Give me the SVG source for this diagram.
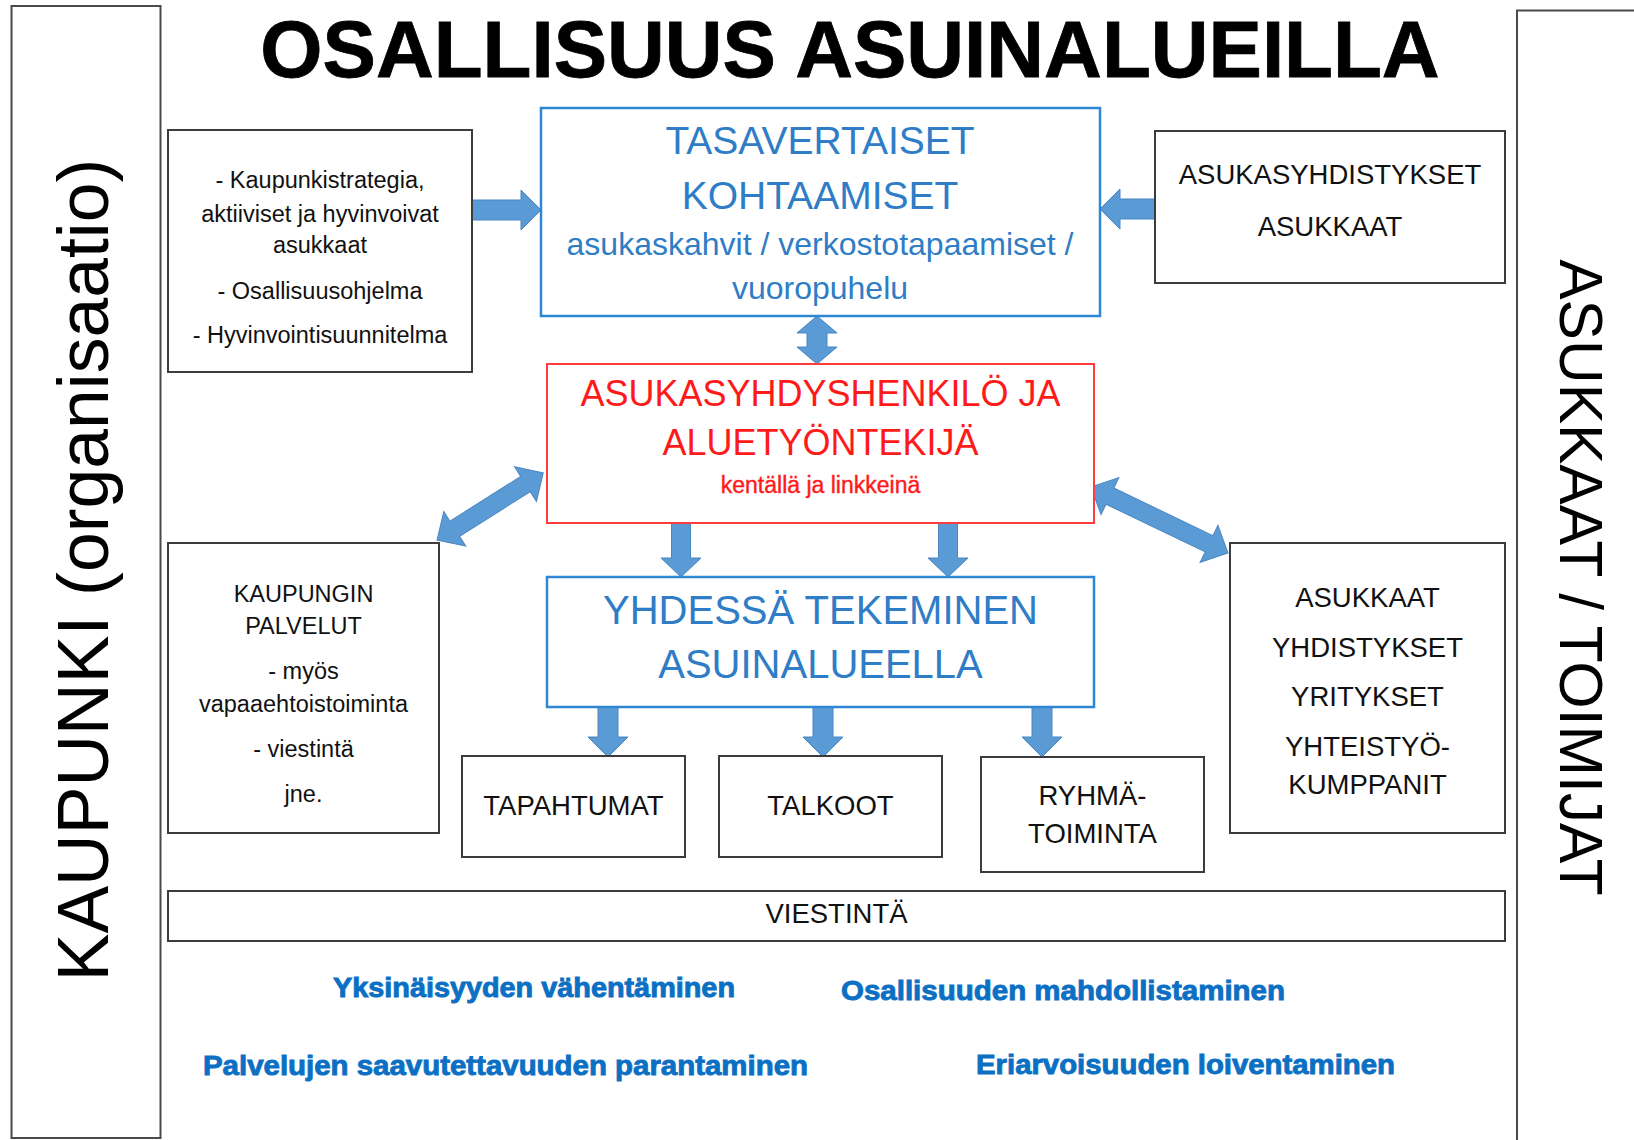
<svg xmlns="http://www.w3.org/2000/svg" width="1634" height="1140" viewBox="0 0 1634 1140">
<style>
  text { font-family: "Liberation Sans", Arial, sans-serif; }
  .box { fill: #ffffff; stroke: #3c3c3c; stroke-width: 2; }
  .bbox { fill: #ffffff; stroke: #2f86d2; stroke-width: 2.5; }
  .rbox { fill: #ffffff; stroke: #ff3c3c; stroke-width: 2; }
  .frame { fill: none; stroke: #4a4a4a; stroke-width: 2; }
  .arr { fill: #5b9bd5; stroke: #4a86c0; stroke-width: 1; stroke-linejoin: miter; }
  .t { fill: #111111; text-anchor: middle; }
  .s { font-size: 23.5px; }
  .m { font-size: 27.5px; }
  .blue { fill: #2e7dc6; text-anchor: middle; }
  .red { fill: #ff1a1a; text-anchor: middle; }
  .goal { fill: #0b70c4; font-weight: bold; font-size: 28px; stroke: #0b70c4; stroke-width: 0.9; }
</style>
<rect x="0" y="0" width="1634" height="1140" fill="#ffffff"/>

<g id="side-kaupunki">
  <rect class="frame" x="11.5" y="6" width="149" height="1132"/>
  <text transform="translate(108,570) rotate(-90)" font-size="71.5" text-anchor="middle" fill="#000">KAUPUNKI (organisaatio)</text>
</g>

<g id="side-asukkaat">
  <rect class="frame" x="1517" y="10.5" width="140" height="1140"/>
  <text transform="translate(1560,577.5) rotate(90)" font-size="60.5" text-anchor="middle" fill="#000">ASUKKAAT / TOIMIJAT</text>
</g>

<g id="title">
  <text x="850" y="77" font-size="80" font-weight="bold" text-anchor="middle" fill="#000" stroke="#000" stroke-width="0.8">OSALLISUUS ASUINALUEILLA</text>
</g>

<g id="connectors">
  <polygon class="arr" points="472,200 521,200 521,190 541,210 521,230 521,220 472,220"/>
  <polygon class="arr" points="1155,199 1120,199 1120,189 1100,209 1120,229 1120,219 1155,219"/>
  <polygon class="arr" points="817,316 837,333 827,333 827,347 837,347 817,364 797,347 807,347 807,333 797,333"/>
  <polygon class="arr" transform="translate(437,540) rotate(-32.3)" points="0,0 21,-20.5 21,-9 104.7,-9 104.7,-20.5 125.7,0 104.7,20.5 104.7,9 21,9 21,20.5"/>
  <polygon class="arr" transform="translate(1091,487) rotate(25.7)" points="0,0 21,-20.5 21,-9 131,-9 131,-20.5 152,0 131,20.5 131,9 21,9 21,20.5"/>
  <polygon class="arr" points="671.5,523 690.5,523 690.5,558 701,558 681,577 661,558 671.5,558"/>
  <polygon class="arr" points="938.5,523 957.5,523 957.5,558 968,558 948,577 928,558 938.5,558"/>
  <polygon class="arr" points="598,707 618,707 618,737 628,737 608,757 588,737 598,737"/>
  <polygon class="arr" points="813,707 833,707 833,737 843,737 823,757 803,737 813,737"/>
  <polygon class="arr" points="1032,707 1052,707 1052,737 1062,737 1042,757 1022,737 1032,737"/>
</g>

<g id="node-strategia">
  <rect class="box" x="168" y="130" width="304" height="242"/>
  <text class="t s" x="320" y="188">- Kaupunkistrategia,</text>
  <text class="t s" x="320" y="222">aktiiviset ja hyvinvoivat</text>
  <text class="t s" x="320" y="253">asukkaat</text>
  <text class="t s" x="320" y="299">- Osallisuusohjelma</text>
  <text class="t s" x="320" y="343">- Hyvinvointisuunnitelma</text>
</g>

<g id="node-tasavertaiset">
  <rect class="bbox" x="541" y="108" width="559" height="208"/>
  <text class="blue" x="820" y="154" font-size="39">TASAVERTAISET</text>
  <text class="blue" x="820" y="209" font-size="39">KOHTAAMISET</text>
  <text class="blue" x="820" y="255" font-size="32">asukaskahvit / verkostotapaamiset /</text>
  <text class="blue" x="820" y="299" font-size="32">vuoropuhelu</text>
</g>

<g id="node-asukasyhdistykset">
  <rect class="box" x="1155" y="131" width="350" height="152"/>
  <text class="t m" x="1330" y="184">ASUKASYHDISTYKSET</text>
  <text class="t m" x="1330" y="236">ASUKKAAT</text>
</g>

<g id="node-asukasyhdyshenkilo">
  <rect class="rbox" x="547" y="364" width="547" height="159"/>
  <text class="red" x="820.5" y="406" font-size="36">ASUKASYHDYSHENKILÖ JA</text>
  <text class="red" x="820.5" y="455" font-size="36">ALUETYÖNTEKIJÄ</text>
  <text class="red" x="820.5" y="493" font-size="23" stroke="#ff1a1a" stroke-width="0.4">kentällä ja linkkeinä</text>
</g>

<g id="node-yhdessa">
  <rect class="bbox" x="547" y="577" width="547" height="130"/>
  <text class="blue" x="820.5" y="624" font-size="40">YHDESSÄ TEKEMINEN</text>
  <text class="blue" x="820.5" y="678" font-size="40">ASUINALUEELLA</text>
</g>

<g id="node-kaupungin-palvelut">
  <rect class="box" x="168" y="543" width="271" height="290"/>
  <text class="t s" x="303.5" y="602">KAUPUNGIN</text>
  <text class="t s" x="303.5" y="634">PALVELUT</text>
  <text class="t s" x="303.5" y="679">- myös</text>
  <text class="t s" x="303.5" y="712">vapaaehtoistoiminta</text>
  <text class="t s" x="303.5" y="757">- viestintä</text>
  <text class="t s" x="303.5" y="802">jne.</text>
</g>

<g id="node-asukkaat-yhdistykset">
  <rect class="box" x="1230" y="543" width="275" height="290"/>
  <text class="t m" x="1367.5" y="607">ASUKKAAT</text>
  <text class="t m" x="1367.5" y="657">YHDISTYKSET</text>
  <text class="t m" x="1367.5" y="706">YRITYKSET</text>
  <text class="t m" x="1367.5" y="756">YHTEISTYÖ-</text>
  <text class="t m" x="1367.5" y="794">KUMPPANIT</text>
</g>

<g id="node-tapahtumat">
  <rect class="box" x="462" y="756" width="223" height="101"/>
  <text class="t m" x="573.5" y="815">TAPAHTUMAT</text>
</g>

<g id="node-talkoot">
  <rect class="box" x="719" y="756" width="223" height="101"/>
  <text class="t m" x="830.5" y="815">TALKOOT</text>
</g>

<g id="node-ryhmatoiminta">
  <rect class="box" x="981" y="757" width="223" height="115"/>
  <text class="t m" x="1092.5" y="805">RYHMÄ-</text>
  <text class="t m" x="1092.5" y="843">TOIMINTA</text>
</g>

<g id="node-viestinta">
  <rect class="box" x="168" y="891" width="1337" height="50"/>
  <text class="t m" x="836.5" y="923">VIESTINTÄ</text>
</g>

<g id="goals">
  <text class="goal" x="333" y="997" textLength="402" lengthAdjust="spacingAndGlyphs">Yksinäisyyden vähentäminen</text>
  <text class="goal" x="841" y="1000" textLength="444" lengthAdjust="spacingAndGlyphs">Osallisuuden mahdollistaminen</text>
  <text class="goal" x="203" y="1075" textLength="605" lengthAdjust="spacingAndGlyphs">Palvelujen saavutettavuuden parantaminen</text>
  <text class="goal" x="976" y="1074" textLength="419" lengthAdjust="spacingAndGlyphs">Eriarvoisuuden loiventaminen</text>
</g>
</svg>
